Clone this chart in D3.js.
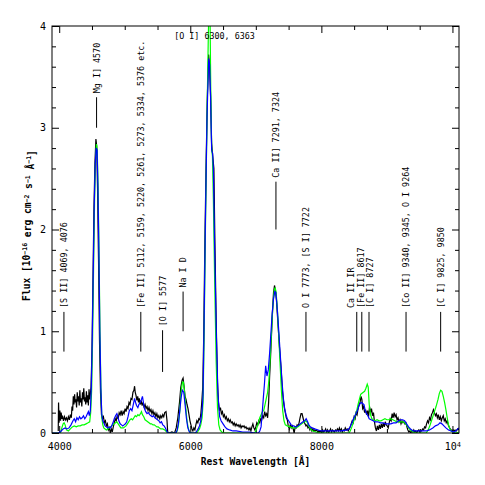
<!DOCTYPE html>
<html>
<head>
<meta charset="utf-8">
<script src="https://cdn.jsdelivr.net/npm/d3@7"></script>
<style>
body { margin: 0; background: #fff; }
text { font-family: "DejaVu Sans Mono", monospace; fill: #000; }
.tick line { stroke: #000; }
</style>
</head>
<body>
<div id="chart"></div>
<script>
// observed spectrum (black)
var obsWave = [3985,3990,3998,4010,4020,4030,4040,4050,4065,4080,4095,4110,4125,4140,4155,4170,4185,4195,4205,4215,4225,4235,4245,4255,4265,4275,4285,4295,4305,4315,4325,4335,4345,4355,4365,4375,4385,4395,4405,4415,4425,4435,4445,4455,4465,4475,4485,4500,4515,4530,4545,4560,4572,4585,4600,4615,4630,4645,4660,4675,4690,4705,4720,4735,4750,4765,4780,4795,4810,4825,4840,4855,4870,4885,4900,4915,4930,4945,4960,4975,4990,5005,5020,5035,5050,5065,5080,5095,5110,5125,5140,5150,5160,5172,5185,5198,5210,5222,5235,5250,5265,5280,5295,5310,5325,5340,5355,5370,5385,5400,5415,5430,5445,5460,5475,5490,5505,5520,5535,5550,5565,5580,5595,5610,5630,5645,5655,5680,5720,5760,5785,5810,5835,5855,5875,5890,5905,5920,5935,5950,5965,5980,5995,6010,6025,6040,6055,6070,6085,6100,6115,6130,6145,6160,6175,6190,6205,6220,6240,6260,6280,6295,6310,6325,6345,6360,6375,6395,6415,6430,6445,6460,6475,6490,6505,6520,6535,6550,6565,6580,6595,6610,6625,6640,6655,6670,6685,6700,6715,6730,6745,6760,6775,6790,6805,6820,6835,6850,6865,6880,6895,6910,6925,6940,6955,6970,6985,7000,7015,7030,7045,7060,7075,7090,7105,7120,7135,7150,7165,7180,7195,7210,7225,7240,7255,7270,7285,7300,7315,7330,7345,7360,7375,7390,7405,7420,7435,7450,7465,7480,7495,7510,7525,7540,7555,7570,7585,7600,7615,7630,7645,7660,7675,7690,7705,7720,7735,7750,7765,7780,7795,7810,7825,7840,7855,7870,7885,7900,7915,7930,7945,7960,7975,7990,8005,8020,8035,8050,8065,8080,8095,8110,8125,8140,8155,8170,8185,8200,8215,8230,8245,8260,8275,8290,8305,8320,8335,8350,8365,8380,8395,8410,8425,8440,8455,8470,8485,8500,8515,8530,8545,8560,8575,8590,8605,8618,8630,8645,8660,8675,8690,8705,8720,8735,8750,8765,8780,8795,8810,8825,8840,8855,8870,8885,8900,8915,8930,8945,8960,8975,8990,9005,9020,9035,9050,9065,9080,9095,9110,9125,9140,9155,9170,9185,9200,9215,9230,9245,9260,9275,9290,9305,9320,9335,9350,9365,9380,9395,9410,9425,9440,9455,9470,9485,9500,9515,9530,9545,9560,9575,9590,9605,9620,9635,9650,9665,9680,9695,9710,9725,9740,9755,9770,9785,9800,9815,9830,9845,9860,9875,9890,9905,9920,9935,9950,9965,9980,9995,10010,10025,10040,10060,10080,10100];
var obsFlux = [0.02,0.30,0.10,0.22,0.12,0.20,0.14,0.17,0.12,0.16,0.13,0.15,0.12,0.16,0.13,0.18,0.15,0.26,0.22,0.36,0.28,0.38,0.30,0.33,0.25,0.40,0.31,0.36,0.27,0.42,0.30,0.34,0.26,0.40,0.33,0.44,0.31,0.35,0.28,0.41,0.30,0.37,0.27,0.43,0.33,0.38,0.45,0.8,1.5,2.2,2.65,2.89,2.82,2.4,1.7,0.9,0.4,0.18,0.14,0.16,0.10,0.12,0.07,0.09,0.03,0.05,0.00,0.04,0.01,0.06,0.10,0.14,0.12,0.17,0.14,0.20,0.18,0.22,0.17,0.21,0.19,0.24,0.21,0.26,0.24,0.30,0.28,0.34,0.33,0.40,0.42,0.46,0.40,0.37,0.32,0.36,0.30,0.34,0.28,0.32,0.27,0.30,0.25,0.28,0.24,0.26,0.22,0.25,0.21,0.23,0.19,0.22,0.18,0.20,0.16,0.19,0.15,0.17,0.14,0.17,0.15,0.18,0.16,0.20,0.21,0.12,0.01,0.00,0.01,0.00,0.05,0.15,0.30,0.45,0.52,0.54,0.46,0.36,0.33,0.28,0.24,0.18,0.12,0.08,0.04,0.02,0.05,0.03,0.08,0.12,0.10,0.14,0.13,0.18,0.30,0.45,0.95,1.75,2.6,3.3,3.72,3.6,3.3,2.85,2.7,2.6,1.9,1.1,0.5,0.30,0.22,0.25,0.19,0.21,0.16,0.18,0.14,0.16,0.12,0.14,0.11,0.13,0.10,0.11,0.08,0.10,0.07,0.09,0.07,0.08,0.06,0.08,0.05,0.07,0.06,0.07,0.05,0.06,0.04,0.05,0.03,0.05,0.02,0.06,0.09,0.05,0.03,0.06,0.10,0.08,0.12,0.10,0.14,0.13,0.17,0.15,0.21,0.17,0.19,0.15,0.30,0.55,0.75,0.98,1.2,1.38,1.45,1.40,1.3,1.15,1.0,0.85,0.72,0.58,0.42,0.32,0.25,0.20,0.15,0.13,0.07,0.04,0.08,0.05,0.07,0.04,0.00,0.06,0.05,0.08,0.07,0.10,0.15,0.19,0.19,0.15,0.11,0.09,0.07,0.08,0.05,0.06,0.03,0.05,0.02,0.04,0.02,0.03,0.02,0.03,0.01,0.02,0.01,0.02,0.00,0.03,0.01,0.02,0.04,0.01,0.03,0.00,0.02,0.04,0.01,0.03,0.02,0.01,0.03,0.02,0.04,0.02,0.05,0.02,0.04,0.01,0.03,0.02,0.05,0.03,0.04,0.02,0.04,0.06,0.09,0.12,0.10,0.16,0.14,0.20,0.18,0.24,0.28,0.30,0.36,0.33,0.24,0.26,0.20,0.23,0.18,0.22,0.16,0.26,0.20,0.24,0.17,0.20,0.11,0.05,0.02,0.07,0.03,0.08,0.04,0.09,0.05,0.10,0.06,0.11,0.08,0.07,0.05,0.10,0.14,0.12,0.19,0.15,0.20,0.16,0.18,0.13,0.15,0.11,0.13,0.09,0.12,0.10,0.11,0.09,0.10,0.06,0.03,0.01,0.02,0.00,0.02,0.01,0.03,0.01,0.02,0.00,0.02,0.03,0.01,0.03,0.02,0.04,0.03,0.06,0.05,0.09,0.12,0.10,0.15,0.13,0.18,0.20,0.23,0.20,0.17,0.19,0.15,0.18,0.13,0.16,0.12,0.15,0.17,0.12,0.14,0.10,0.12,0.08,0.06,0.04,0.03,0.02,0.03,0.02,0.03,0.02,0.04,0.03];

// model 1 (blue)
var blueWave = [3890,3990,4030,4060,4090,4120,4150,4180,4210,4230,4250,4270,4290,4310,4330,4350,4370,4390,4410,4430,4445,4460,4475,4490,4505,4520,4535,4550,4565,4578,4590,4605,4620,4635,4650,4665,4680,4700,4720,4740,4760,4780,4800,4820,4840,4860,4880,4895,4910,4930,4950,4970,4990,5010,5030,5050,5070,5090,5110,5130,5150,5165,5180,5200,5215,5235,5255,5270,5285,5300,5320,5340,5360,5380,5400,5420,5440,5460,5480,5500,5520,5540,5560,5580,5600,5620,5640,5660,5780,5800,5820,5840,5860,5880,5900,5920,5940,5960,5980,6000,6080,6100,6120,6140,6160,6180,6195,6210,6230,6255,6280,6295,6310,6326,6340,6352,6372,6398,6422,6448,6470,6490,6510,6530,6560,6600,6650,6700,6800,6900,6980,7040,7060,7080,7100,7115,7130,7150,7170,7190,7210,7230,7250,7270,7290,7305,7320,7340,7360,7380,7400,7420,7440,7460,7480,7500,7520,7540,7560,7580,7600,7620,7640,7660,7680,7700,7720,7745,7768,7790,7810,7830,7860,7900,7950,8000,8100,8200,8300,8400,8430,8460,8490,8520,8550,8570,8590,8610,8630,8650,8670,8690,8710,8730,8760,8790,8820,8860,8900,8940,8980,9020,9060,9100,9140,9180,9210,9240,9270,9300,9330,9360,9400,9450,9500,9550,9600,9650,9700,9740,9780,9810,9840,9870,9900,9940,9980,10020,10050,10080,10100];
var blueFlux = [0.0,0.0,0.02,0.04,0.05,0.04,0.05,0.08,0.12,0.14,0.11,0.15,0.13,0.16,0.14,0.15,0.17,0.14,0.16,0.19,0.21,0.17,0.22,0.45,0.95,1.6,2.25,2.65,2.8,2.78,2.45,1.8,1.0,0.45,0.18,0.12,0.10,0.07,0.06,0.05,0.06,0.05,0.07,0.10,0.14,0.17,0.19,0.16,0.12,0.09,0.08,0.07,0.08,0.09,0.11,0.16,0.22,0.24,0.22,0.28,0.34,0.30,0.27,0.25,0.28,0.30,0.33,0.36,0.30,0.24,0.21,0.19,0.20,0.18,0.17,0.16,0.17,0.15,0.14,0.13,0.12,0.10,0.11,0.08,0.07,0.05,0.02,0.0,0.0,0.03,0.10,0.22,0.35,0.42,0.40,0.28,0.15,0.06,0.02,0.0,0.0,0.02,0.04,0.07,0.12,0.22,0.38,1.05,2.05,3.1,3.68,3.62,3.3,2.78,2.75,2.6,1.8,0.95,0.38,0.16,0.12,0.10,0.08,0.06,0.04,0.03,0.02,0.02,0.01,0.01,0.0,0.0,0.02,0.06,0.22,0.35,0.47,0.66,0.56,0.62,0.78,0.98,1.18,1.32,1.39,1.38,1.28,1.10,0.90,0.70,0.50,0.34,0.24,0.18,0.14,0.12,0.10,0.08,0.07,0.07,0.06,0.06,0.07,0.08,0.09,0.10,0.11,0.12,0.14,0.11,0.08,0.06,0.05,0.04,0.03,0.02,0.02,0.02,0.02,0.03,0.05,0.09,0.14,0.18,0.22,0.26,0.29,0.30,0.29,0.28,0.22,0.19,0.17,0.14,0.13,0.12,0.11,0.11,0.10,0.10,0.09,0.09,0.09,0.10,0.10,0.12,0.13,0.13,0.12,0.09,0.06,0.04,0.02,0.02,0.02,0.02,0.02,0.03,0.05,0.07,0.08,0.10,0.09,0.07,0.05,0.03,0.02,0.01,0.02,0.04,0.05];

// model 2 (green)
var greenWave = [3890,4020,4040,4060,4075,4090,4110,4140,4170,4200,4230,4260,4290,4320,4350,4380,4410,4440,4465,4480,4495,4510,4525,4540,4555,4568,4580,4592,4607,4622,4636,4650,4665,4680,4700,4720,4740,4760,4780,4800,4820,4840,4860,4880,4900,4920,4940,4960,4980,5000,5020,5040,5060,5080,5100,5120,5140,5160,5180,5200,5220,5240,5255,5270,5290,5310,5330,5350,5370,5390,5410,5430,5450,5470,5490,5510,5530,5550,5580,5610,5640,5660,5780,5800,5820,5840,5860,5880,5895,5910,5930,5950,5970,5990,6010,6100,6120,6140,6160,6180,6195,6210,6230,6255,6275,6290,6300,6312,6326,6338,6352,6372,6395,6415,6435,6455,6480,6520,6980,7000,7020,7040,7060,7080,7100,7120,7140,7160,7180,7200,7220,7240,7260,7280,7295,7310,7330,7350,7370,7390,7410,7430,7450,7480,7520,7560,7600,7640,7680,7720,7760,7780,7800,7830,7870,7920,7980,8420,8440,8460,8480,8500,8520,8540,8560,8580,8600,8620,8640,8660,8680,8700,8715,8730,8750,8770,8790,8820,8850,8880,8910,8940,8970,9000,9030,9060,9090,9120,9150,9180,9210,9240,9270,9300,9330,9360,9400,9440,9600,9630,9660,9690,9720,9750,9780,9800,9820,9840,9860,9880,9900,9920,9940,9960,9980,10010,10050,10100];
var greenFlux = [0.0,0.0,0.05,0.09,0.10,0.08,0.03,0.02,0.04,0.06,0.07,0.06,0.07,0.07,0.08,0.08,0.09,0.10,0.11,0.20,0.42,0.95,1.65,2.3,2.7,2.84,2.78,2.45,1.8,1.0,0.45,0.15,0.08,0.05,0.04,0.03,0.04,0.05,0.06,0.07,0.08,0.09,0.10,0.11,0.09,0.07,0.05,0.05,0.05,0.06,0.07,0.09,0.11,0.13,0.14,0.13,0.15,0.17,0.16,0.18,0.17,0.19,0.21,0.18,0.16,0.13,0.12,0.11,0.10,0.09,0.09,0.08,0.08,0.07,0.06,0.06,0.05,0.04,0.04,0.03,0.01,0.0,0.0,0.02,0.08,0.22,0.40,0.50,0.50,0.42,0.26,0.12,0.04,0.01,0.0,0.0,0.02,0.04,0.08,0.15,0.30,0.9,1.95,3.1,3.9,4.35,4.2,3.4,2.8,2.72,2.3,1.5,0.7,0.25,0.08,0.03,0.01,0.0,0.0,0.02,0.06,0.10,0.15,0.18,0.21,0.22,0.28,0.34,0.40,0.52,0.75,1.0,1.25,1.40,1.43,1.38,1.2,0.95,0.68,0.42,0.22,0.12,0.08,0.07,0.06,0.05,0.05,0.06,0.08,0.10,0.12,0.11,0.08,0.04,0.02,0.01,0.0,0.0,0.02,0.05,0.09,0.13,0.18,0.22,0.28,0.33,0.38,0.39,0.40,0.41,0.44,0.48,0.45,0.28,0.18,0.14,0.13,0.12,0.13,0.12,0.12,0.13,0.14,0.13,0.13,0.14,0.13,0.12,0.11,0.11,0.11,0.11,0.10,0.08,0.05,0.03,0.01,0.0,0.0,0.03,0.08,0.14,0.20,0.26,0.33,0.39,0.42,0.41,0.36,0.30,0.23,0.15,0.08,0.04,0.02,0.01,0.0,0.01];

// line identifications
var lineLabels = ["[S II] 4069, 4076", "Mg I] 4570", "[Fe II] 5112, 5159, 5220, 5261, 5273, 5334, 5376 etc.", "[O I] 5577", "Na I D", "Ca II] 7291, 7324", "O I 7773, [S I] 7722", "Ca II IR", "[Fe II] 8617", "[C I] 8727", "[Co II] 9340, 9345, O I 9264", "[C I] 9825, 9850"];
var lineWaves = [4072, 4570, 5245, 5577, 5890, 7307, 7765, 8540, 8617, 8727, 9292, 9820];
var textWaves = [4072, 4570, 5245, 5577, 5890, 7307, 7765, 8455, 8607, 8742, 9292, 9820];
var lineTop = [1.19, 3.30, 1.19, 1.01, 1.39, 2.47, 1.19, 1.19, 1.19, 1.19, 1.19, 1.19];
var lineBottom = [0.80, 3.00, 0.80, 0.60, 1.00, 2.00, 0.80, 0.80, 0.80, 0.80, 0.80, 0.80];
var topLabel = "[O I] 6300, 6363";
var topLabelWave = 6370, topLabelFlux = 3.87;

var xMajor = [4000, 6000, 8000, 10000];
var xMinor = [4500, 5000, 5500, 6500, 7000, 7500, 8500, 9000, 9500];
var yMajor = [0, 1, 2, 3, 4];
var yMinor = [0.2,0.4,0.6,0.8,1.2,1.4,1.6,1.8,2.2,2.4,2.6,2.8,3.2,3.4,3.6,3.8];

var W = 485, H = 485;
var margin = {top: 26, right: 26, bottom: 52, left: 52};
var width = W - margin.left - margin.right;
var height = H - margin.top - margin.bottom;

var x = d3.scaleLinear().domain([3890, 10100]).range([0, width]);
var y = d3.scaleLinear().domain([0, 4]).range([height, 0]);

var svg = d3.select("#chart").append("svg")
    .attr("width", W)
    .attr("height", H);

var g = svg.append("g")
    .attr("transform", "translate(" + margin.left + "," + margin.top + ")");

g.append("clipPath").attr("id", "clip")
  .append("rect").attr("width", width).attr("height", height);

// ticks, all pointing inward
function ticks(axisFn, vals, size, transform, labels) {
  var a = axisFn.tickValues(vals).tickSize(-size);
  if (!labels) a.tickFormat("");
  else a.tickFormat(d3.format("d"));
  var sel = g.append("g").attr("class", "axis")
    .attr("transform", transform)
    .call(a);
  sel.select(".domain").remove();
  return sel;
}

var bot = ticks(d3.axisBottom(x).tickPadding(10), xMajor, 7, "translate(0," + height + ")", true);
ticks(d3.axisBottom(x), xMinor, 4, "translate(0," + height + ")", false);
ticks(d3.axisTop(x), xMajor, 7, "translate(0,0)", false);
ticks(d3.axisTop(x), xMinor, 4, "translate(0,0)", false);
var lft = ticks(d3.axisLeft(y).tickPadding(6), yMajor, 7, "translate(0,0)", true);
ticks(d3.axisLeft(y), yMinor, 4, "translate(0,0)", false);
ticks(d3.axisRight(y), yMajor, 7, "translate(" + width + ",0)", false);
ticks(d3.axisRight(y), yMinor, 4, "translate(" + width + ",0)", false);

bot.selectAll("text").style("font-size", "10px").style("font-family", '"DejaVu Sans Mono", monospace')
  .each(function(d) {
    if (d == 10000) {
      var t = d3.select(this).text("10");
      t.append("tspan").attr("dy", "-0.4em").style("font-size", "7px").text("4");
    }
  });
lft.selectAll("text").style("font-size", "10px").style("font-family", '"DejaVu Sans Mono", monospace');

// spectra
var line = d3.line()
  .x(function(d) { return x(d[0]); })
  .y(function(d) { return y(d[1]); });

function pairs(w, f) { return w.map(function(v, i) { return [v, f[i]]; }); }

var spectra = g.append("g").attr("clip-path", "url(#clip)");
spectra.append("path").datum(pairs(obsWave, obsFlux))
  .attr("d", line).attr("fill", "none").attr("stroke", "#000").attr("stroke-width", 1.2);
spectra.append("path").datum(pairs(greenWave, greenFlux))
  .attr("d", line).attr("fill", "none").attr("stroke", "#00ff00").attr("stroke-width", 1.2);
spectra.append("path").datum(pairs(blueWave, blueFlux))
  .attr("d", line).attr("fill", "none").attr("stroke", "#0000ff").attr("stroke-width", 1.2);

// frame
g.append("rect").attr("width", width).attr("height", height)
  .attr("fill", "none").attr("stroke", "#000").attr("stroke-width", 1);

// line ids
var ids = g.append("g").selectAll("g").data(lineLabels).enter().append("g");
ids.append("line")
  .attr("x1", function(d, i) { return x(lineWaves[i]); })
  .attr("x2", function(d, i) { return x(lineWaves[i]); })
  .attr("y1", function(d, i) { return y(lineTop[i]); })
  .attr("y2", function(d, i) { return y(lineBottom[i]); })
  .attr("stroke", "#000").attr("stroke-width", 1);
ids.append("text")
  .attr("transform", function(d, i) {
    return "translate(" + x(textWaves[i]) + "," + (y(lineTop[i]) - 4) + ") rotate(-90)";
  })
  .attr("dy", "0.35em")
  .style("font-size", "8.4px")
  .text(function(d) { return d; });

g.append("text")
  .attr("x", x(topLabelWave)).attr("y", y(topLabelFlux))
  .attr("text-anchor", "middle")
  .style("font-size", "8.4px")
  .text(topLabel);

// axis titles
g.append("text")
  .attr("x", width / 2).attr("y", height + 32)
  .attr("text-anchor", "middle")
  .style("font-size", "9.6px").style("font-weight", "bold")
  .text("Rest Wavelength [Å]");

var yt = g.append("text")
  .attr("transform", "translate(-22," + (height / 2 - 4) + ") rotate(-90)")
  .attr("text-anchor", "middle")
  .style("font-size", "9.6px").style("font-weight", "bold");
yt.append("tspan").text("Flux [10");
yt.append("tspan").attr("dy", "-0.4em").style("font-size", "6.5px").text("−16");
yt.append("tspan").attr("dy", "0.4em").text(" erg cm");
yt.append("tspan").attr("dy", "-0.4em").style("font-size", "6.5px").text("−2");
yt.append("tspan").attr("dy", "0.4em").text(" s");
yt.append("tspan").attr("dy", "-0.4em").style("font-size", "6.5px").text("−1");
yt.append("tspan").attr("dy", "0.4em").text(" Å");
yt.append("tspan").attr("dy", "-0.4em").style("font-size", "6.5px").text("−1");
yt.append("tspan").attr("dy", "0.4em").text("]");
</script>
</body>
</html>
